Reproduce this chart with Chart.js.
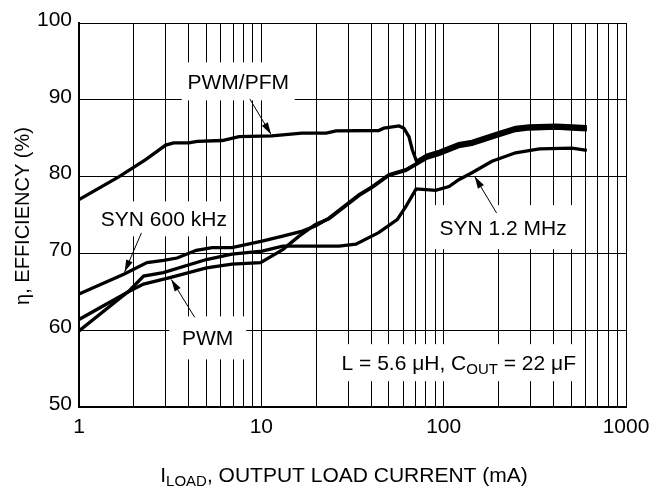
<!DOCTYPE html>
<html>
<head>
<meta charset="utf-8">
<script src="https://cdn.jsdelivr.net/npm/chart.js@4/dist/chart.umd.min.js"></script>
<style>
  html, body { margin: 0; padding: 0; background: #fff; }
  canvas { display: block; }
</style>
</head>
<body>
<canvas id="effChart" width="665" height="491"></canvas>
<script>
// load current (mA) / efficiency (%) pairs
const pwmPfmLoad = [1, 1.66, 2.32, 2.99, 3.3, 4.0, 4.45, 6.1, 7.55, 11.4, 16.7, 22.7, 25.7, 44, 47, 57, 60.5, 64.5, 67.3, 71, 81, 94.5, 121, 143, 193, 248, 294, 414, 505, 610];
const pwmPfmEff = [77.0, 80.0, 82.2, 84.1, 84.4, 84.4, 84.6, 84.7, 85.2, 85.3, 85.65, 85.65, 85.95, 86.0, 86.3, 86.6, 86.3, 85.2, 83.5, 82.0, 82.8, 83.3, 84.3, 84.6, 85.6, 86.4, 86.6, 86.7, 86.6, 86.5];

const syn600Load = [1, 1.76, 2.36, 2.91, 3.45, 4.4, 5.38, 6.9, 10.1, 13.1, 16.8, 19.9, 23.5, 34.4, 40.6, 50, 62, 71.6, 81, 94.5, 121, 143, 193, 248, 294, 414, 505, 610];
const syn600Eff = [64.7, 67.3, 68.8, 69.1, 69.4, 70.4, 70.75, 70.75, 71.6, 72.25, 72.9, 73.6, 74.6, 77.65, 78.7, 80.25, 80.9, 81.75, 82.5, 83.0, 84.0, 84.3, 85.3, 86.1, 86.3, 86.4, 86.3, 86.2];

const pwmLoad = [1, 1.9, 2.26, 3.15, 5.0, 6.9, 9.9, 13.1, 16.1, 19.9, 23.5, 34.4, 40.6, 50, 62, 71.6, 81, 94.5, 121, 143, 193, 248, 294, 414, 505, 610];
const pwmEff = [61.4, 65.1, 66.0, 66.85, 68.1, 68.6, 68.8, 70.5, 72.25, 73.8, 74.5, 77.55, 78.6, 80.15, 80.8, 81.65, 82.4, 82.9, 83.9, 84.2, 85.2, 86.0, 86.2, 86.3, 86.2, 86.1];

const syn12Load = [1, 1.9, 2.26, 2.9, 5.0, 6.9, 10.1, 13.1, 26.7, 33, 44, 55.6, 62, 70.6, 80, 90.4, 107, 121, 143, 184, 248, 335, 505, 610];
const syn12Eff = [59.9, 65.2, 67.05, 67.5, 69.2, 69.9, 70.3, 70.95, 70.95, 71.2, 72.7, 74.4, 76.1, 78.4, 78.3, 78.2, 78.7, 79.6, 80.5, 82.0, 83.1, 83.6, 83.7, 83.4];

const xTickLabels = [1, 10, 100, 1000];
const yTickLabels = [50, 60, 70, 80, 90, 100];

const pts = (xs, ys) => xs.map((x, i) => ({ x: x, y: ys[i] }));

// grid at every 1..9 step of each decade
const xGrid = [];
for (let d = 1; d < 1000; d *= 10) {
  for (let m = 1; m < 10; m++) xGrid.push(m * d);
}
xGrid.push(1000);

const FONT = '"Liberation Sans", Arial, Helvetica, sans-serif';

// callouts: text anchored in data space, white box size in px, arrow from -> tip
const notes = [
  { parts: [['PWM/PFM']], at: [7.47, 92.4], box: [113, 38], arrow: [[8.65, 90.1], [11.3, 85.5]] },
  { parts: [['SYN 600 kHz']], at: [2.92, 74.5], box: [135, 35], arrow: [[2.2, 72.67], [1.78, 67.6]] },
  { parts: [['PWM']], at: [5.08, 59.0], box: [77, 43], arrow: [[4.31, 61.68], [3.21, 66.6]] },
  { parts: [['SYN 1.2 MHz']], at: [212, 73.42], box: [147, 44], arrow: [[195, 75.27], [148, 80.0]] },
  { parts: [['L = 5.6 \u03bcH, C'], ['OUT', true], [' = 22 \u03bcF']], at: [121, 55.77], box: [250, 37] }
];

function drawRich(ctx, parts, cx, baseline, size, subSize) {
  let total = 0;
  parts.forEach(p => {
    ctx.font = (p[1] ? subSize : size) + 'px ' + FONT;
    total += ctx.measureText(p[0]).width;
  });
  let x = cx - total / 2;
  ctx.textAlign = 'left';
  ctx.textBaseline = 'alphabetic';
  parts.forEach(p => {
    ctx.font = (p[1] ? subSize : size) + 'px ' + FONT;
    ctx.fillText(p[0], x, p[1] ? baseline + 4 : baseline);
    x += ctx.measureText(p[0]).width;
  });
}

const annotate = {
  id: 'annotate',
  beforeDraw(chart) {
    const ctx = chart.ctx;
    ctx.save();
    ctx.fillStyle = '#fff';
    ctx.fillRect(0, 0, chart.width, chart.height);
    ctx.restore();
  },
  beforeDatasetsDraw(chart) {
    const { ctx, scales: { x, y } } = chart;
    ctx.save();
    notes.forEach(n => {
      const cx = x.getPixelForValue(n.at[0]);
      const cy = y.getPixelForValue(n.at[1]);
      ctx.fillStyle = '#fff';
      ctx.fillRect(cx - n.box[0] / 2, cy - n.box[1] / 2, n.box[0], n.box[1]);
      ctx.fillStyle = '#000';
      drawRich(ctx, n.parts, cx, cy + 7.5, 21, 15);
    });
    ctx.restore();
  },
  afterDatasetsDraw(chart) {
    const { ctx, scales: { x, y } } = chart;
    ctx.save();
    ctx.strokeStyle = '#000';
    ctx.fillStyle = '#000';
    ctx.lineWidth = 1;
    notes.filter(n => n.arrow).forEach(n => {
      const x0 = x.getPixelForValue(n.arrow[0][0]), y0 = y.getPixelForValue(n.arrow[0][1]);
      const x1 = x.getPixelForValue(n.arrow[1][0]), y1 = y.getPixelForValue(n.arrow[1][1]);
      const a = Math.atan2(y1 - y0, x1 - x0);
      ctx.beginPath();
      ctx.moveTo(x0, y0);
      ctx.lineTo(x1, y1);
      ctx.stroke();
      ctx.beginPath();
      ctx.moveTo(x1, y1);
      ctx.lineTo(x1 - 12 * Math.cos(a) + 3.5 * Math.sin(a), y1 - 12 * Math.sin(a) - 3.5 * Math.cos(a));
      ctx.lineTo(x1 - 12 * Math.cos(a) - 3.5 * Math.sin(a), y1 - 12 * Math.sin(a) + 3.5 * Math.cos(a));
      ctx.closePath();
      ctx.fill();
    });
    ctx.restore();
  },
  afterDraw(chart) {
    const ctx = chart.ctx;
    ctx.save();
    ctx.fillStyle = '#000';
    drawRich(ctx, [['I'], ['LOAD', true], [', OUTPUT LOAD CURRENT (mA)']], 344, 482, 21, 15);
    ctx.translate(29, 216);
    ctx.rotate(-Math.PI / 2);
    ctx.font = '20px ' + FONT;
    ctx.textAlign = 'center';
    ctx.textBaseline = 'alphabetic';
    ctx.fillText('\u03b7, EFFICIENCY (%)', 0, 0);
    ctx.restore();
  }
};

const line = (data) => ({
  data: data,
  borderColor: '#000',
  borderWidth: 3.3,
  pointRadius: 0,
  fill: false,
  tension: 0
});

new Chart(document.getElementById('effChart').getContext('2d'), {
  type: 'line',
  data: {
    datasets: [
      line(pts(pwmPfmLoad, pwmPfmEff)),
      line(pts(syn600Load, syn600Eff)),
      line(pts(pwmLoad, pwmEff)),
      line(pts(syn12Load, syn12Eff))
    ]
  },
  options: {
    responsive: false,
    animation: false,
    devicePixelRatio: 1,
    layout: { padding: { top: 23, right: 39, left: 0, bottom: 0 } },
    plugins: { legend: { display: false }, tooltip: { enabled: false } },
    scales: {
      x: {
        type: 'logarithmic',
        min: 1,
        max: 1000,
        afterBuildTicks: (s) => { s.ticks = xGrid.map(v => ({ value: v })); },
        afterFit: (s) => { s.height = 84; },
        grid: { color: '#000', lineWidth: 1, drawTicks: false },
        border: { color: '#000', width: 2 },
        ticks: {
          autoSkip: false,
          maxRotation: 0,
          minRotation: 0,
          padding: 8,
          color: '#000',
          font: { family: FONT, size: 21 },
          callback: (v) => xTickLabels.includes(v) ? String(v) : ''
        }
      },
      y: {
        min: 50,
        max: 100,
        afterBuildTicks: (s) => { s.ticks = yTickLabels.map(v => ({ value: v })); },
        afterFit: (s) => { s.width = 79; },
        grid: { color: '#000', lineWidth: 1, drawTicks: false },
        border: { color: '#000', width: 2 },
        ticks: {
          padding: 7,
          labelOffset: -3,
          color: '#000',
          font: { family: FONT, size: 21 }
        }
      }
    }
  },
  plugins: [annotate]
});
</script>
</body>
</html>
